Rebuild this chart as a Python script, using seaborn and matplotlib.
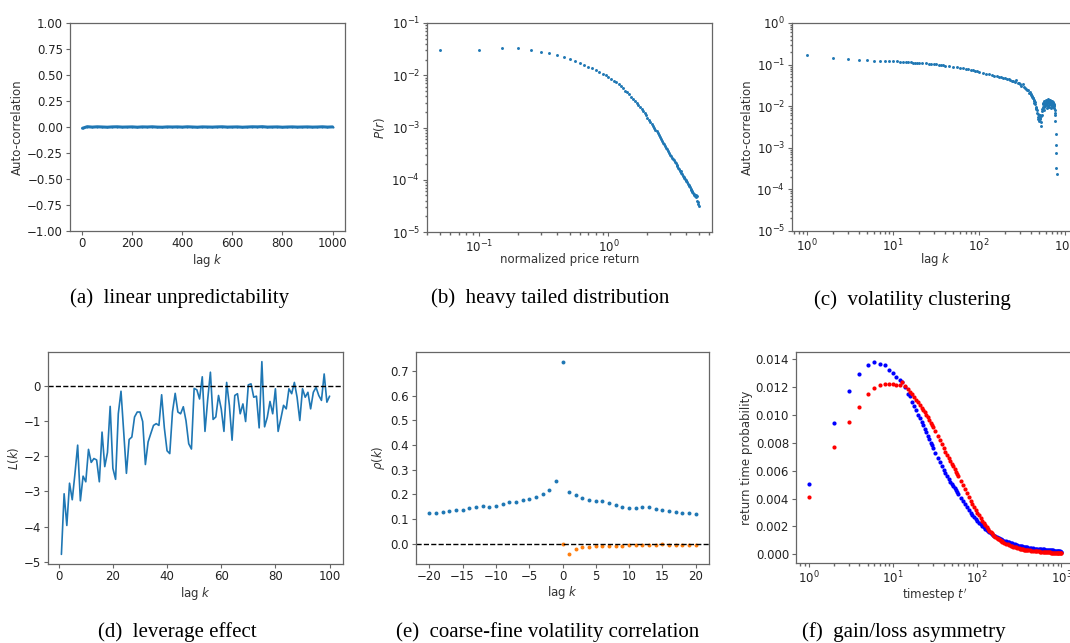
import matplotlib

matplotlib.use("Agg")
import matplotlib.pyplot as plt
import seaborn as sns

FIG_W, FIG_H = 1070, 643

# (a) linear unpredictability: auto-correlation of returns
lag_a = [1] + list(range(20, 1001, 20))
acf_a = [
    -0.012, 0.003, -0.001, 0.002, 0.0, -0.002, 0.001, 0.002, -0.001, 0.0,
    0.001, -0.002, 0.001, 0.0, 0.002, -0.001, -0.002, 0.001, 0.0, 0.001,
    -0.001, 0.002, 0.0, -0.002, 0.001, 0.0, -0.001, 0.001, 0.002, -0.001,
    0.0, 0.001, -0.002, 0.0, 0.002, 0.001, 0.003, -0.001, 0.0, 0.001,
    -0.002, 0.0, 0.001, -0.001, 0.0, 0.001, -0.001, 0.0, 0.002, -0.001,
    0.001,
]

# (b) heavy tailed distribution
ret_b = [round(0.05 * i, 2) for i in range(1, 101)]
prob_b = [
    3.05e-2, 3.05e-2, 3.28e-2, 3.28e-2, 3.05e-2, 2.83e-2, 2.63e-2, 2.44e-2, 2.24e-2, 2.04e-2,
    1.91e-2, 1.74e-2, 1.58e-2, 1.46e-2, 1.35e-2, 1.24e-2, 1.15e-2, 1.07e-2, 1.00e-2, 9.3e-3,
    8.6e-3, 7.9e-3, 7.3e-3, 6.8e-3, 6.2e-3, 5.6e-3, 5.1e-3, 4.7e-3, 4.3e-3, 3.9e-3,
    3.5e-3, 3.2e-3, 2.95e-3, 2.7e-3, 2.45e-3, 2.25e-3, 2.05e-3, 1.86e-3, 1.7e-3, 1.55e-3,
    1.41e-3, 1.29e-3, 1.17e-3, 1.08e-3, 1.0e-3, 9.1e-4, 8.4e-4, 7.8e-4, 7.1e-4, 6.6e-4,
    6.0e-4, 5.6e-4, 5.1e-4, 4.8e-4, 4.5e-4, 4.1e-4, 3.8e-4, 3.55e-4, 3.3e-4, 3.0e-4,
    2.8e-4, 2.65e-4, 2.5e-4, 2.35e-4, 2.2e-4, 2.05e-4, 1.9e-4, 1.82e-4, 1.7e-4, 1.62e-4,
    1.5e-4, 1.45e-4, 1.35e-4, 1.3e-4, 1.2e-4, 1.15e-4, 1.1e-4, 1.05e-4, 9.8e-5, 9.3e-5,
    8.9e-5, 8.3e-5, 8.0e-5, 7.6e-5, 7.2e-5, 6.8e-5, 6.5e-5, 6.2e-5, 5.9e-5, 5.6e-5,
    5.4e-5, 5.1e-5, 4.9e-5, 4.7e-5, 5.0e-5, 4.8e-5, 4.0e-5, 3.5e-5, 3.7e-5, 3.1e-5,
]

# (c) volatility clustering: auto-correlation of absolute returns
lag_c = (
    list(range(1, 21)) + list(range(22, 41, 2)) + list(range(45, 101, 5))
    + list(range(110, 391, 10)) + list(range(400, 771, 5)) + [775, 780, 785, 790, 795]
)
acf_c = [
    # 1 .. 20
    0.167, 0.148, 0.136, 0.130, 0.127, 0.125, 0.123, 0.122, 0.121, 0.120,
    0.119, 0.118, 0.116, 0.115, 0.114, 0.113, 0.111, 0.111, 0.110, 0.109,
    # 22 .. 40
    0.108, 0.107, 0.105, 0.104, 0.103, 0.101, 0.100, 0.098, 0.097, 0.095,
    # 45 .. 100
    0.092, 0.090, 0.087, 0.085, 0.082, 0.080, 0.078, 0.076, 0.074, 0.071, 0.069, 0.067,
    # 110 .. 390
    0.064, 0.061, 0.059, 0.056, 0.054, 0.053, 0.051, 0.049, 0.048, 0.047,
    0.046, 0.044, 0.043, 0.041, 0.040, 0.039, 0.043, 0.037, 0.036, 0.035,
    0.031, 0.034, 0.029, 0.027, 0.026, 0.024, 0.025, 0.021, 0.022,
    # 400 .. 770
    0.019, 0.020, 0.018, 0.017, 0.016, 0.0155, 0.014, 0.013, 0.012, 0.0125,
    0.011, 0.0095, 0.009, 0.0085, 0.008, 0.007, 0.0065, 0.005, 0.0055, 0.0062,
    0.0045, 0.0052, 0.006, 0.0048, 0.0042, 0.0058, 0.0033, 0.006, 0.0075, 0.0085,
    0.0095, 0.012, 0.011, 0.0095, 0.008, 0.013, 0.012, 0.0105, 0.010, 0.0115,
    0.014, 0.012, 0.009, 0.0135, 0.012, 0.0105, 0.015, 0.0125, 0.010, 0.014,
    0.013, 0.0095, 0.011, 0.012, 0.014, 0.0115, 0.009, 0.013, 0.012, 0.0105,
    0.010, 0.012, 0.013, 0.0095, 0.011, 0.0125, 0.012, 0.0105, 0.009, 0.011,
    0.010, 0.008, 0.007, 0.006, 0.0045,
    # 775 .. 795
    0.0022, 0.0012, 0.00075, 0.00032, 0.00024,
]

# (d) leverage effect
lag_d = list(range(1, 101))
lev_d = [
    -4.79, -3.07, -3.97, -2.77, -3.24, -2.5, -1.69, -3.27, -2.57, -2.73,
    -1.81, -2.18, -2.07, -2.11, -2.73, -1.32, -2.30, -1.9, -0.59, -2.35,
    -2.66, -0.8, -0.16, -1.32, -2.49, -1.53, -1.46, -0.89, -0.75, -0.75,
    -1.02, -2.24, -1.6, -1.36, -1.13, -1.08, -1.13, -0.26, -1.2, -1.85,
    -1.93, -0.75, -0.22, -0.75, -0.8, -0.6, -1.0, -1.65, -1.8, -0.08,
    -0.12, -0.38, 0.25, -1.30, -0.4, 0.38, -0.96, -0.89, -0.28, -0.66,
    -1.30, 0.09, -0.56, -1.55, -0.28, -0.23, -0.8, -0.52, -1.02, 0.02,
    0.05, -0.33, -0.3, -1.2, 0.68, -1.17, -0.9, -0.45, -0.8, -0.09,
    -1.30, -0.94, -0.56, -0.66, -0.09, -0.23, 0.09, -0.33, -0.99, -0.09,
    -0.33, -0.19, -0.66, -0.19, -0.05, -0.28, -0.42, 0.33, -0.47, -0.30,
]

# (e) coarse-fine volatility correlation
lag_e = list(range(-20, 21))
rho_e = [
    0.125, 0.125, 0.128, 0.133, 0.135, 0.137, 0.143, 0.150, 0.153, 0.150,
    0.153, 0.160, 0.168, 0.170, 0.177, 0.180, 0.190, 0.200, 0.218, 0.254,
    0.739,
    0.211, 0.197, 0.187, 0.177, 0.173, 0.171, 0.165, 0.157, 0.150, 0.146,
    0.145, 0.148, 0.148, 0.140, 0.137, 0.133, 0.130, 0.124, 0.124, 0.120,
]
lag_e_diff = list(range(0, 21))
rho_e_diff = [
    0.0, -0.044, -0.022, -0.016, -0.013, -0.010, -0.009, -0.008, -0.009, -0.008,
    -0.007, -0.007, -0.006, -0.006, -0.005, -0.002, -0.006, -0.005, -0.006, -0.005,
    -0.006,
]

# (f) gain/loss asymmetry: return time probability (x 1e-3)
step_f = (
    list(range(1, 31)) + list(range(32, 61, 2)) + list(range(64, 101, 4))
    + list(range(105, 201, 5)) + list(range(210, 401, 10)) + list(range(420, 1001, 20))
)
gain_f = [
    # 1 .. 30
    5.02, 9.42, 11.66, 12.89, 13.53, 13.79, 13.6, 13.53, 13.2, 13.0,
    12.7, 12.5, 12.3, 11.95, 11.5, 11.3, 10.9, 10.6, 10.3, 10.0,
    9.75, 9.5, 9.25, 9.0, 8.75, 8.5, 8.25, 8.0, 7.8, 7.6,
    # 32 .. 60
    7.25, 6.9, 6.6, 6.3, 6.05, 5.8, 5.6, 5.4, 5.2, 5.05, 4.9, 4.75, 4.6, 4.45, 4.3,
    # 64 .. 100
    4.05, 3.82, 3.6, 3.38, 3.15, 2.99, 2.83, 2.67, 2.53, 2.4,
    # 105 .. 200
    2.27, 2.15, 2.05, 1.95, 1.85, 1.75, 1.67, 1.6, 1.53, 1.47,
    1.41, 1.35, 1.3, 1.25, 1.2, 1.16, 1.12, 1.08, 1.04, 1.0,
    # 210 .. 400
    0.96, 0.93, 0.9, 0.86, 0.82, 0.79, 0.75, 0.72, 0.69, 0.665,
    0.64, 0.62, 0.6, 0.58, 0.56, 0.545, 0.53, 0.515, 0.5, 0.48,
    # 420 .. 1000
    0.465, 0.45, 0.44, 0.425, 0.41, 0.40, 0.39, 0.38, 0.37, 0.36,
    0.355, 0.35, 0.34, 0.33, 0.325, 0.32, 0.31, 0.30, 0.29, 0.285,
    0.28, 0.27, 0.26, 0.25, 0.245, 0.24, 0.23, 0.22, 0.21, 0.2,
]
loss_f = [
    # 1 .. 30
    4.09, 7.69, 9.46, 10.55, 11.47, 11.88, 12.15, 12.2, 12.2, 12.2,
    12.15, 12.15, 12.3, 12.05, 11.85, 11.6, 11.45, 11.25, 11.05, 10.9,
    10.7, 10.5, 10.3, 10.15, 10.0, 9.8, 9.6, 9.4, 9.25, 9.1,
    # 32 .. 60
    8.8, 8.5, 8.2, 7.9, 7.6, 7.35, 7.1, 6.9, 6.7, 6.5, 6.3, 6.1, 5.9, 5.75, 5.6,
    # 64 .. 100
    5.28, 4.98, 4.7, 4.4, 4.1, 3.85, 3.6, 3.4, 3.2, 3.0,
    # 105 .. 200
    2.8, 2.6, 2.42, 2.25, 2.1, 1.95, 1.82, 1.7, 1.6, 1.5,
    1.41, 1.33, 1.26, 1.2, 1.14, 1.08, 1.03, 0.98, 0.94, 0.9,
    # 210 .. 400
    0.84, 0.78, 0.73, 0.68, 0.64, 0.6, 0.56, 0.53, 0.5, 0.47,
    0.445, 0.42, 0.4, 0.38, 0.365, 0.35, 0.335, 0.32, 0.31, 0.3,
    # 420 .. 1000
    0.285, 0.27, 0.26, 0.25, 0.24, 0.23, 0.22, 0.21, 0.2, 0.19,
    0.18, 0.175, 0.17, 0.16, 0.155, 0.15, 0.145, 0.14, 0.13, 0.125,
    0.12, 0.115, 0.11, 0.105, 0.1, 0.095, 0.09, 0.085, 0.08, 0.075,
]
gain_f = [v / 1000 for v in gain_f]
loss_f = [v / 1000 for v in loss_f]

captions = [
    "(a)  linear unpredictability",
    "(b)  heavy tailed distribution",
    "(c)  volatility clustering",
    "(d)  leverage effect",
    "(e)  coarse-fine volatility correlation",
    "(f)  gain/loss asymmetry",
]

BLUE = "#1f77b4"
ORANGE = "#ff7f0e"

sns.set_theme(style="ticks")
plt.rcParams.update({
    "font.family": ["DejaVu Sans"],
    "mathtext.fontset": "dejavusans",
    "axes.labelsize": 8.5,
    "xtick.labelsize": 8.5,
    "ytick.labelsize": 8.5,
    "axes.edgecolor": "#666666",
    "axes.linewidth": 0.9,
    "xtick.color": "#666666",
    "ytick.color": "#666666",
    "xtick.labelcolor": "#222222",
    "ytick.labelcolor": "#222222",
    "axes.labelcolor": "#333333",
    "xtick.major.size": 3,
    "ytick.major.size": 3,
    "xtick.minor.size": 1.8,
    "ytick.minor.size": 1.8,
    "xtick.major.pad": 1.5,
    "ytick.major.pad": 2,
    "xtick.minor.pad": 1.5,
    "ytick.minor.pad": 2,
    "xtick.major.width": 0.8,
    "ytick.major.width": 0.8,
})


def add_panel(fig, box, xlab_y, ylab_x):
    # box is (left, top, right, bottom) in figure pixels
    left, top, right, bottom = box
    w, h = right - left, bottom - top
    ax = fig.add_axes([left / FIG_W, 1 - bottom / FIG_H, w / FIG_W, h / FIG_H])
    ax.xaxis.set_label_coords(0.5, (bottom - (xlab_y - 6)) / h)
    ax.yaxis.set_label_coords((ylab_x + 6 - left) / w, 0.5)
    return ax


fig = plt.figure(figsize=(FIG_W / 100, FIG_H / 100), dpi=100)

# (a)
ax = add_panel(fig, (70, 23, 345, 231), 258, 18)
sns.lineplot(x=lag_a, y=acf_a, ax=ax, color=BLUE, linewidth=2.2,
             marker=".", markersize=3, markeredgewidth=0)
ax.set_ylim(-1, 1)
ax.set_yticks([-1, -0.75, -0.5, -0.25, 0, 0.25, 0.5, 0.75, 1])
ax.set_xlabel("lag $k$")
ax.set_ylabel("Auto-correlation")

# (b)
ax = add_panel(fig, (427, 23, 712, 232), 259, 381)
sns.scatterplot(x=ret_b, y=prob_b, ax=ax, color=BLUE, s=4.5, linewidth=0)
ax.set_xscale("log")
ax.set_yscale("log")
ax.set_ylim(1e-5, 1e-1)
ax.set_xlabel("normalized price return")
ax.set_ylabel("$P(r)$")

# (c)
ax = add_panel(fig, (792, 23, 1078, 231), 257, 748)
sns.scatterplot(x=lag_c, y=acf_c, ax=ax, color=BLUE, s=4.5, linewidth=0)
ax.set_xscale("log")
ax.set_yscale("log")
ax.set_xlim(0.67, 1413)
ax.set_ylim(1e-5, 1)
ax.set_xlabel("lag $k$")
ax.set_ylabel("Auto-correlation")

# (d)
ax = add_panel(fig, (48, 352, 343, 564), 591, 15)
sns.lineplot(x=lag_d, y=lev_d, ax=ax, color=BLUE, linewidth=1.2)
ax.axhline(0, color="black", linestyle="--", linewidth=1)
ax.set_xlabel("lag $k$")
ax.set_ylabel("$L(k)$")

# (e)
ax = add_panel(fig, (416, 352, 709, 564), 590, 381)
sns.scatterplot(x=lag_e, y=rho_e, ax=ax, color=BLUE, s=8, linewidth=0)
sns.scatterplot(x=lag_e_diff, y=rho_e_diff, ax=ax, color=ORANGE, s=8, linewidth=0)
ax.axhline(0, color="black", linestyle="--", linewidth=1)
ax.set_xticks(list(range(-20, 21, 5)))
ax.set_yticks([0.0, 0.1, 0.2, 0.3, 0.4, 0.5, 0.6, 0.7])
ax.set_xlabel("lag $k$")
ax.set_ylabel(r"$\rho(k)$")

# (f)
ax = add_panel(fig, (796, 352, 1074, 563), 592, 747)
sns.scatterplot(x=step_f, y=gain_f, ax=ax, color="blue", s=9, linewidth=0)
sns.scatterplot(x=step_f, y=loss_f, ax=ax, color="red", s=9, linewidth=0)
ax.set_xscale("log")
ax.set_xlabel("timestep $t'$")
ax.set_ylabel("return time probability")

caption_pos = [(180, 298), (550, 298), (912, 300), (177, 632), (548, 632), (904, 632)]
for text, (cx, cy) in zip(captions, caption_pos):
    fig.text(cx / FIG_W, 1 - cy / FIG_H, text, ha="center", va="center",
             family="Liberation Serif", size=15, color="black")

fig.savefig("out.png", dpi=100)
